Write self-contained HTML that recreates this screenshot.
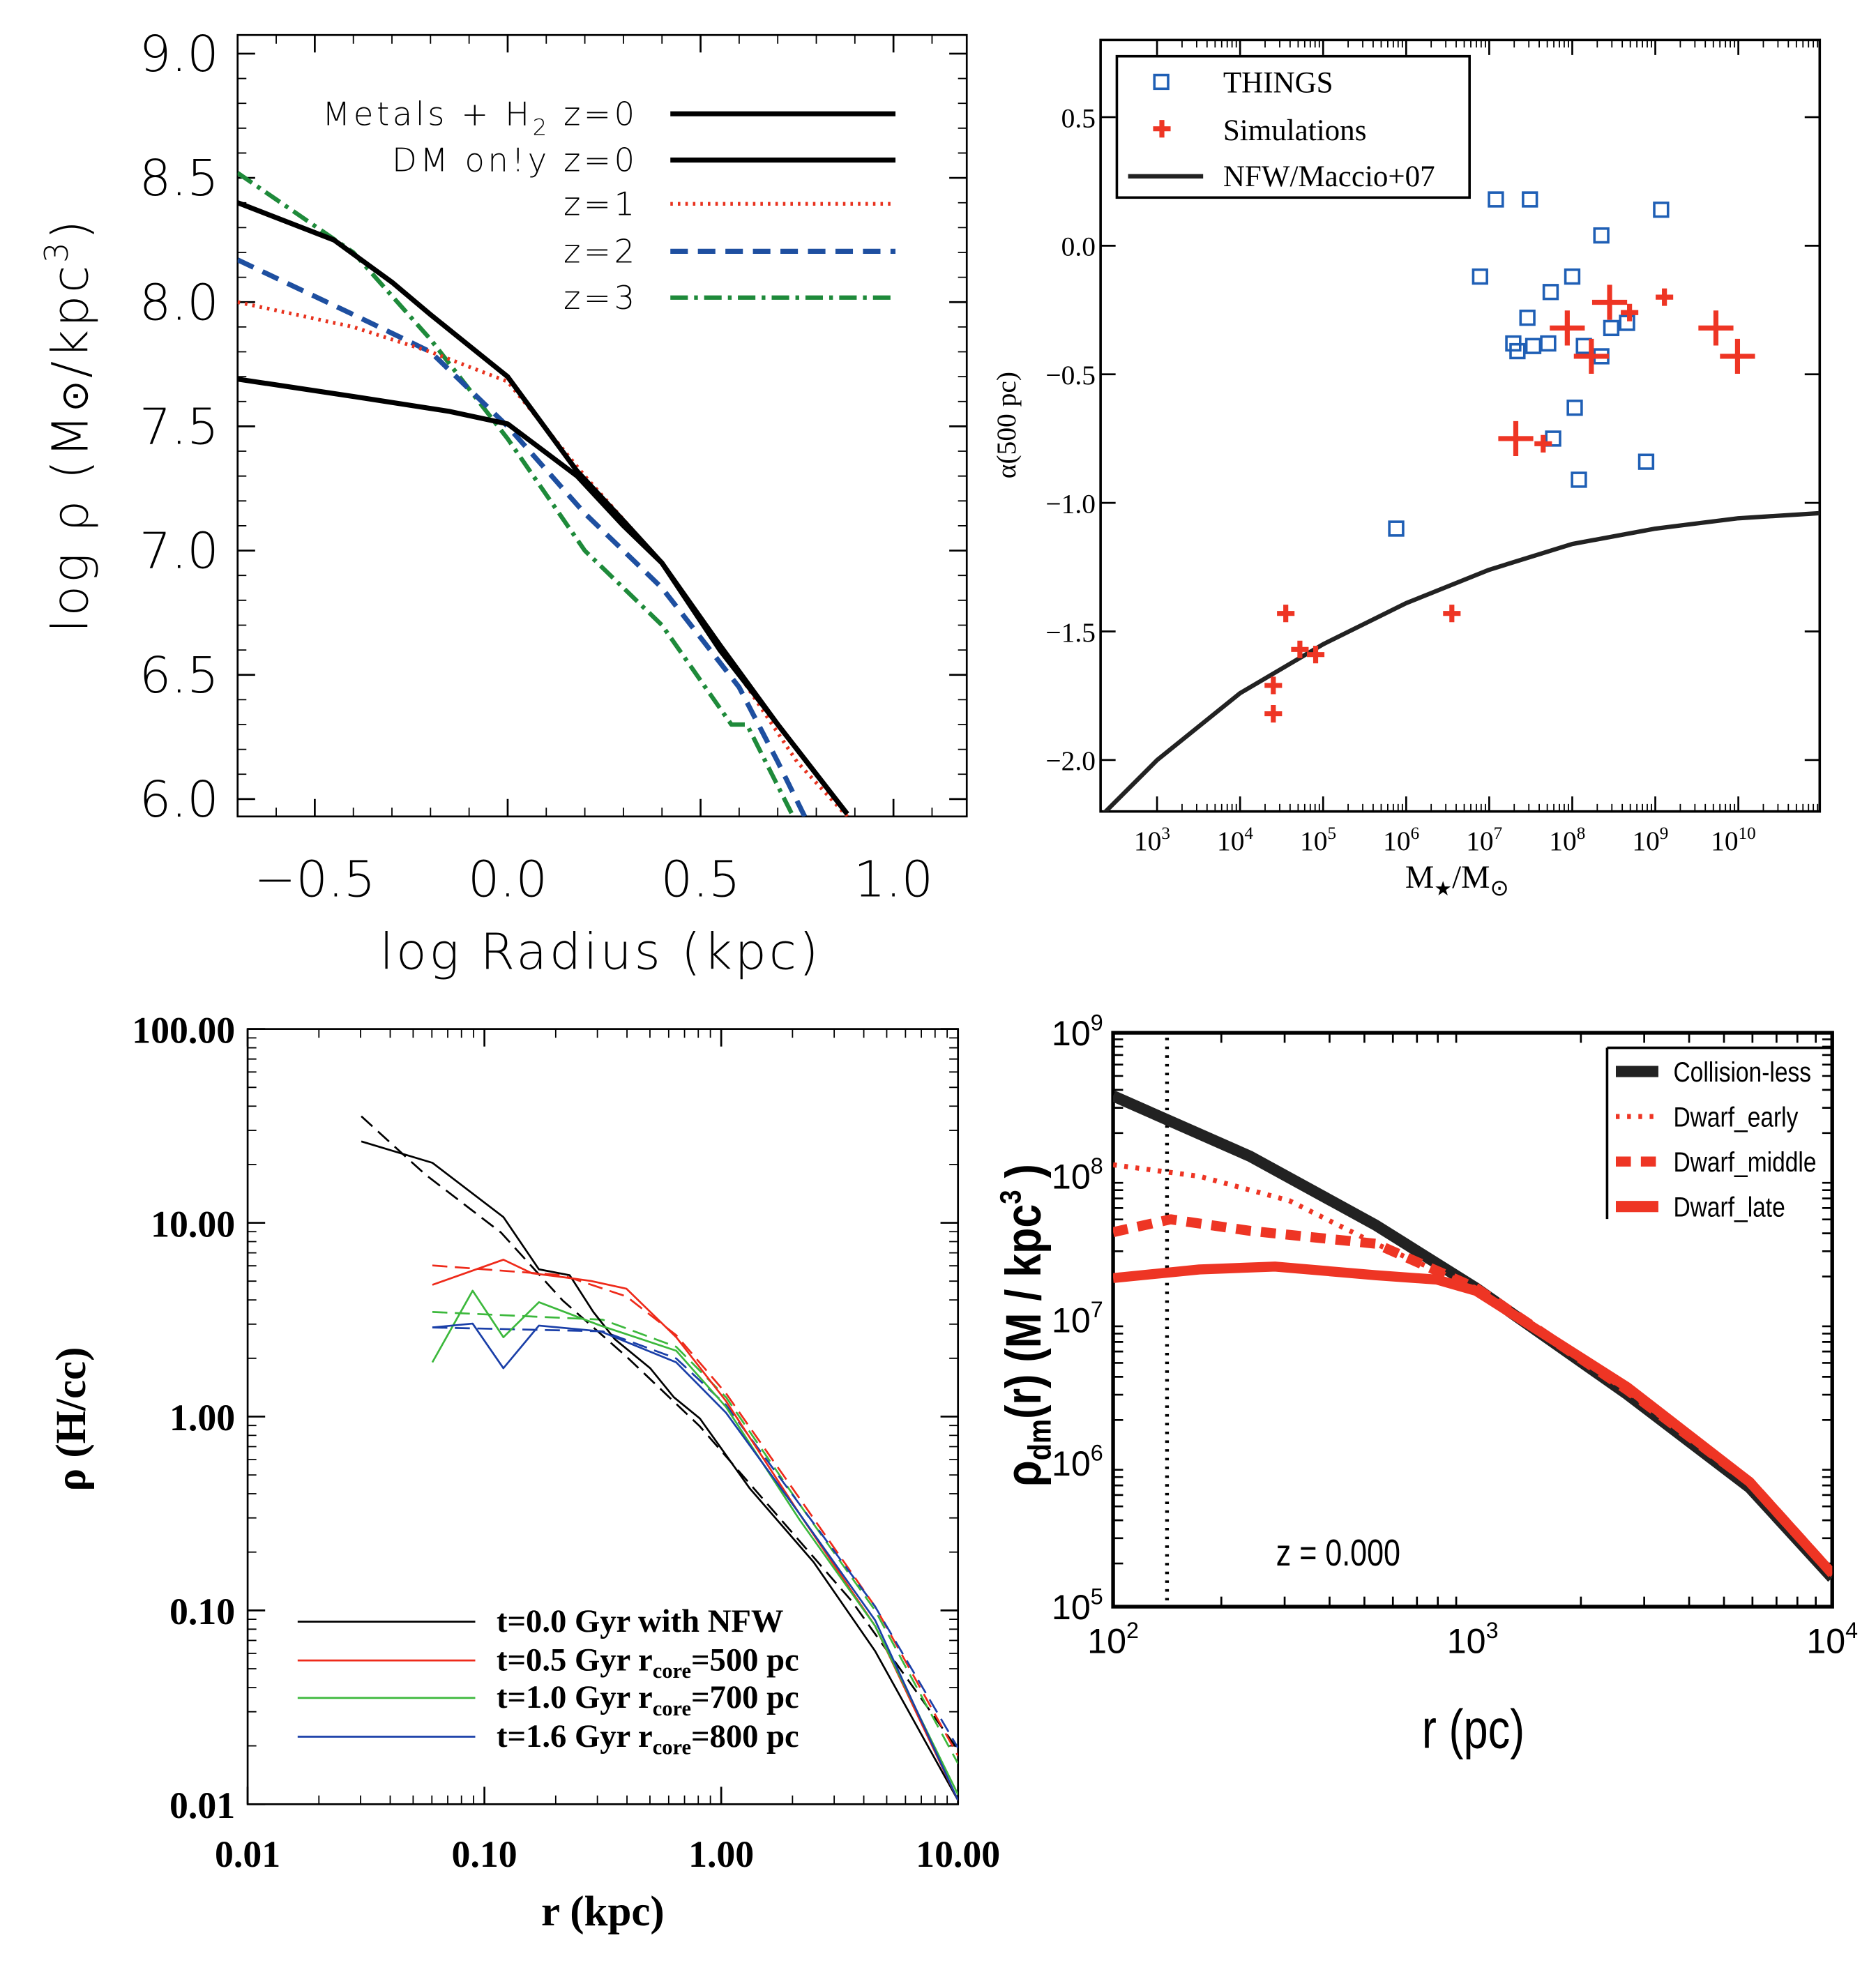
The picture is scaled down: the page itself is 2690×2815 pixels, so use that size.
<!DOCTYPE html>
<html><head><meta charset="utf-8"><style>
html,body{margin:0;padding:0;background:#fff;}
svg{display:block;}
</style></head><body>
<svg id="fig" width="2690" height="2815" viewBox="0 0 1500 1570" preserveAspectRatio="none" xmlns="http://www.w3.org/2000/svg">
<rect x="0" y="0" width="1500" height="1570" fill="#fff"/>
<g font-family="DejaVu Sans, sans-serif" fill="#000">
  <rect x="190" y="28" width="583" height="625" fill="none" stroke="#000" stroke-width="1.5"/>
  <text x="480" y="775" font-size="40" text-anchor="middle" font-weight="200" letter-spacing="2">log  Radius  (kpc)</text>
  <text transform="translate(70,340) rotate(-90)" font-size="40" text-anchor="middle" font-weight="200" letter-spacing="2">log  ρ  (M<tspan font-size="30">⊙</tspan>/kpc<tspan dy="-16" font-size="26">3</tspan><tspan dy="16">)</tspan></text>
  <g font-size="26" font-weight="200" letter-spacing="2.5">
    <text x="510" y="100" text-anchor="end">Metals  +  H<tspan dy="8" font-size="18">2</tspan><tspan dy="-8">  z=0</tspan></text>
    <text x="510" y="137" text-anchor="end">DM  on!y  z=0</text>
    <text x="510" y="172" text-anchor="end">z=1</text>
    <text x="510" y="210" text-anchor="end">z=2</text>
    <text x="510" y="247" text-anchor="end">z=3</text>
    <line x1="536" y1="91" x2="716" y2="91" stroke="#000" stroke-width="4"/>
    <line x1="536" y1="128" x2="716" y2="128" stroke="#000" stroke-width="4"/>
    <line x1="536" y1="163" x2="716" y2="163" stroke="#e8321e" stroke-width="3" stroke-dasharray="2,4"/>
    <line x1="536" y1="201" x2="716" y2="201" stroke="#1e4fa0" stroke-width="4" stroke-dasharray="14,8"/>
    <line x1="536" y1="238" x2="716" y2="238" stroke="#1e8a3a" stroke-width="3.5" stroke-dasharray="14,5,3,5"/>
  </g>
</g>
<g font-family="Liberation Serif, serif" fill="#000">
  <rect x="880" y="32" width="575" height="617" fill="none" stroke="#000" stroke-width="2"/>
  <text x="1165" y="710" font-size="26" text-anchor="middle">M<tspan font-size="16" dy="6">★</tspan><tspan dy="-6">/M</tspan><tspan font-size="18" dy="6">⊙</tspan></text>
  <text transform="translate(812,340) rotate(-90)" font-size="22" text-anchor="middle">α(500 pc)</text>
  <g>
    <rect x="893" y="45" width="282" height="113" fill="#fff" stroke="#000" stroke-width="2"/>
    <rect x="923" y="60" width="11" height="11" fill="none" stroke="#1f5fb5" stroke-width="2"/>
    <text x="978" y="74" font-size="24">THINGS</text>
    <path d="M929,96 v14 M922,103 h14" stroke="#ee3524" stroke-width="4"/>
    <text x="978" y="112" font-size="24">Simulations</text>
    <line x1="902" y1="141" x2="962" y2="141" stroke="#222" stroke-width="3.5"/>
    <text x="978" y="149" font-size="24">NFW/Maccio+07</text>
  </g>
</g>
<g font-family="Liberation Serif, serif" font-weight="bold" fill="#000">
  <rect x="198" y="823" width="568" height="620" fill="none" stroke="#000" stroke-width="1.5"/>
  <text x="482" y="1540" font-size="34" text-anchor="middle">r (kpc)</text>
  <text transform="translate(68,1135) rotate(-90)" font-size="34" text-anchor="middle">ρ (H/cc)</text>
  <g font-size="26">
    <line x1="238" y1="1297" x2="380" y2="1297" stroke="#000" stroke-width="1.5"/>
    <line x1="238" y1="1328" x2="380" y2="1328" stroke="#ee2a1a" stroke-width="1.5"/>
    <line x1="238" y1="1358" x2="380" y2="1358" stroke="#3cb83c" stroke-width="1.5"/>
    <line x1="238" y1="1389" x2="380" y2="1389" stroke="#1a3fa8" stroke-width="1.5"/>
    <text x="397" y="1305">t=0.0 Gyr with NFW</text>
    <text x="397" y="1336">t=0.5 Gyr r<tspan font-size="17" dy="6">core</tspan><tspan dy="-6">=500 pc</tspan></text>
    <text x="397" y="1366">t=1.0 Gyr r<tspan font-size="17" dy="6">core</tspan><tspan dy="-6">=700 pc</tspan></text>
    <text x="397" y="1397">t=1.6 Gyr r<tspan font-size="17" dy="6">core</tspan><tspan dy="-6">=800 pc</tspan></text>
  </g>
</g>
<g font-family="Liberation Sans Narrow, Liberation Sans, sans-serif" fill="#000">
  <rect x="890" y="826" width="575" height="459" fill="none" stroke="#000" stroke-width="3"/>
  <text x="1178" y="1398" font-size="44" text-anchor="middle" transform="translate(1178,0) scale(0.8,1) translate(-1178,0)">r (pc)</text>
  <text transform="translate(832,1060) rotate(-90) scale(0.85,1)" font-size="40" text-anchor="middle" font-weight="bold">ρ<tspan font-size="26" dy="8">dm</tspan><tspan dy="-8">(r)  (M    / kpc</tspan><tspan font-size="24" dy="-16">3</tspan><tspan dy="16"> )</tspan></text>
  <text x="1070" y="1252" font-size="30" text-anchor="middle" transform="translate(1070,0) scale(0.8,1) translate(-1070,0)">z =  0.000</text>
  <g font-size="22">
    <path d="M1285,838 V975 M1285,838 H1465" stroke="#000" stroke-width="2" fill="none"/>
    <line x1="1292" y1="857" x2="1326" y2="857" stroke="#222" stroke-width="9"/>
    <line x1="1292" y1="893" x2="1326" y2="893" stroke="#ee3524" stroke-width="4" stroke-dasharray="3,6"/>
    <line x1="1292" y1="929" x2="1326" y2="929" stroke="#ee3524" stroke-width="8" stroke-dasharray="12,8"/>
    <line x1="1292" y1="965" x2="1326" y2="965" stroke="#ee3524" stroke-width="9"/>
    <text x="1338" y="865" transform="translate(1338,0) scale(0.85,1) translate(-1338,0)">Collision-less</text>
    <text x="1338" y="901" transform="translate(1338,0) scale(0.85,1) translate(-1338,0)">Dwarf_early</text>
    <text x="1338" y="937" transform="translate(1338,0) scale(0.85,1) translate(-1338,0)">Dwarf_middle</text>
    <text x="1338" y="973" transform="translate(1338,0) scale(0.85,1) translate(-1338,0)">Dwarf_late</text>
  </g>
</g>
</svg>
<script>
const aMetalsX=[-0.70,-0.40,-0.15,0.0,0.18,0.30,0.40,0.55,0.70,0.88];
const aMetalsY=[7.69,7.62,7.56,7.51,7.30,7.10,6.95,6.62,6.30,5.94];
const aDmX=[-0.70,-0.45,-0.30,-0.20,0.0,0.18,0.30,0.40,0.55,0.70,0.88];
const aDmY=[8.40,8.25,8.08,7.95,7.70,7.32,7.12,6.95,6.60,6.30,5.94];
const aZ1X=[-0.70,-0.40,-0.20,0.0,0.20,0.40,0.60,0.75,0.88];
const aZ1Y=[8.00,7.90,7.80,7.68,7.30,6.95,6.50,6.15,5.93];
const aZ2X=[-0.70,-0.40,-0.20,0.0,0.20,0.40,0.60,0.70,0.77];
const aZ2Y=[8.17,7.95,7.80,7.50,7.15,6.85,6.45,6.15,5.93];
const aZ3X=[-0.70,-0.40,-0.20,0.0,0.20,0.40,0.58,0.62,0.74];
const aZ3Y=[8.52,8.20,7.85,7.45,7.00,6.70,6.30,6.30,5.93];
const aXTicks=[-0.5,0.0,0.5,1.0];
const aXTickLabels=["−0.5","0.0","0.5","1.0"];
const aYTicks=[6.0,6.5,7.0,7.5,8.0,8.5,9.0];
const aYTickLabels=["6.0","6.5","7.0","7.5","8.0","8.5","9.0"];
const bThingsLogM=[5.88,6.89,7.08,7.49,7.46,7.29,7.34,7.53,7.71,7.74,7.77,8.00,8.03,8.08,8.14,8.35,8.35,8.47,8.66,8.89,9.07];
const bThingsAlpha=[-1.10,-0.12,0.18,0.18,-0.28,-0.38,-0.41,-0.39,-0.38,-0.18,-0.75,-0.12,-0.63,-0.91,-0.39,0.04,-0.43,-0.32,-0.30,-0.84,0.14];
const bSimSmallLogM=[4.55,4.40,4.40,4.72,4.91,6.55,7.65,9.11,8.69];
const bSimSmallAlpha=[-1.43,-1.71,-1.82,-1.57,-1.59,-1.43,-0.77,-0.20,-0.26];
const bSimLargeLogM=[7.32,7.94,8.23,8.45,9.73,9.99];
const bSimLargeAlpha=[-0.75,-0.32,-0.43,-0.22,-0.32,-0.43];
const bNfwLogM=[2.32,3,4,5,6,7,8,9,10,10.98];
const bNfwAlpha=[-2.22,-2.0,-1.74,-1.55,-1.39,-1.26,-1.16,-1.10,-1.06,-1.04];
const bXTicks=[3,4,5,6,7,8,9,10];
const bYTicks=[0.5,0.0,-0.5,-1.0,-1.5,-2.0];
const bYTickLabels=["0.5","0.0","−0.5","−1.0","−1.5","−2.0"];
const cBlackX=[-1.52,-1.22,-0.92,-0.77,-0.64,-0.54,-0.45,-0.30,-0.20,-0.09,0.12,0.39,0.65,1.0];
const cBlackY=[1.42,1.31,1.03,0.76,0.73,0.54,0.40,0.25,0.10,-0.01,-0.37,-0.75,-1.21,-1.98];
const cBlackDX=[-1.52,-1.25,-0.93,-0.67,-0.40,-0.09,0.23,0.55,1.0];
const cBlackDY=[1.55,1.25,0.95,0.60,0.31,-0.05,-0.50,-0.95,-1.72];
const cRedX=[-1.22,-0.92,-0.80,-0.67,-0.55,-0.40,-0.19,0.02,0.33,0.65,1.0];
const cRedY=[0.68,0.81,0.74,0.72,0.70,0.66,0.41,0.08,-0.50,-1.08,-1.98];
const cRedDX=[-1.22,-0.67,-0.40,-0.19,0.02,0.33,0.65,1.0];
const cRedDY=[0.78,0.73,0.62,0.42,0.12,-0.42,-0.98,-1.75];
const cGreenX=[-1.22,-1.05,-0.92,-0.77,-0.51,-0.19,0.02,0.33,0.65,1.0];
const cGreenY=[0.28,0.65,0.41,0.59,0.47,0.34,0.05,-0.53,-1.08,-1.95];
const cGreenDX=[-1.22,-0.5,-0.19,0.02,0.33,0.65,1.0];
const cGreenDY=[0.54,0.50,0.36,0.10,-0.45,-1.0,-1.79];
const cBlueX=[-1.22,-1.05,-0.92,-0.77,-0.51,-0.19,0.02,0.33,0.65,1.0];
const cBlueY=[0.46,0.48,0.25,0.47,0.44,0.28,0.02,-0.50,-1.05,-1.98];
const cBlueDX=[-1.22,-0.5,-0.19,0.02,0.33,0.65,1.0];
const cBlueDY=[0.46,0.44,0.30,0.06,-0.45,-0.98,-1.71];
const cXTicks=[-2,-1,0,1];
const cXTickLabels=["0.01","0.10","1.00","10.00"];
const cYTicks=[-2,-1,0,1,2];
const cYTickLabels=["0.01","0.10","1.00","10.00","100.00"];
const dCollX=[2,2.38,2.73,3.01,3.43,3.77,4.0];
const dCollY=[8.56,8.14,7.66,7.22,6.48,5.83,5.20];
const dEarlyX=[2,2.24,2.49,2.73,3.01,3.43,3.77,4.0];
const dEarlyY=[8.08,8.00,7.83,7.53,7.22,6.50,5.86,5.22];
const dMidX=[2,2.16,2.38,2.73,3.01,3.43,3.77,4.0];
const dMidY=[7.61,7.70,7.62,7.53,7.22,6.51,5.87,5.23];
const dLateX=[2,2.24,2.45,2.73,2.90,3.01,3.43,3.77,4.0];
const dLateY=[7.29,7.35,7.37,7.31,7.28,7.20,6.53,5.87,5.23];
const dVLine=[2.15];
const dXTicks=[2,3,4];
const dYTicks=[5,6,7,8,9];

const NS="http://www.w3.org/2000/svg";
const fig=document.getElementById('fig');
function el(tag,attrs){const e=document.createElementNS(NS,tag);for(const k in attrs)e.setAttribute(k,attrs[k]);fig.appendChild(e);return e;}
function lin(d0,d1,p0,p1){return v=>p0+(v-d0)*(p1-p0)/(d1-d0);}
function pathD(xs,ys,fx,fy){return xs.map((x,i)=>(i?'L':'M')+fx(x).toFixed(1)+','+fy(ys[i]).toFixed(1)).join(' ');}
function curve(xs,ys,fx,fy,style,name){
  const p=el('path',Object.assign({d:pathD(xs,ys,fx,fy),fill:'none','stroke-linejoin':'round'},style));
  
  
  return p;
}
function clipRect(id,x,y,w,h){const c=el('clipPath',{id:id});const r=document.createElementNS(NS,'rect');r.setAttribute('x',x);r.setAttribute('y',y);r.setAttribute('width',w);r.setAttribute('height',h);c.appendChild(r);}

const ax=lin(-0.70,1.19,190,773), ay=lin(9.075,5.93,28,653);
clipRect('ca',190,28,583,625);
aXTicks.forEach((t,i)=>{
  const x=ax(t);
  const tk=el('path',{d:`M${x},653v-14M${x},28v14`,stroke:'#000','stroke-width':1.5});
  
  
  const lb=el('text',{x:x,y:717,'font-size':40,'text-anchor':'middle','font-family':'DejaVu Sans, sans-serif','font-weight':'200'});
  lb.textContent=aXTickLabels[i];
  
  
});
for(let t=-0.6;t<1.2;t+=0.1){const x=ax(t);const m=el('path',{d:`M${x},653v-7M${x},28v7`,stroke:'#000','stroke-width':1});
  
  }
aYTicks.forEach((t,i)=>{
  const y=ay(t);
  const tk=el('path',{d:`M190,${y}h14M773,${y}h-14`,stroke:'#000','stroke-width':1.5});
  
  
  const lb=el('text',{x:175,y:y+14,'font-size':40,'text-anchor':'end','font-family':'DejaVu Sans, sans-serif','font-weight':'200'});
  lb.textContent=aYTickLabels[i];
  
  
});
for(let t=6.1;t<9.05;t+=0.1){const y=ay(t);const m=el('path',{d:`M190,${y}h7M773,${y}h-7`,stroke:'#000','stroke-width':1});
  
  }
const gA={'clip-path':'url(#ca)'};
curve(aZ3X,aZ3Y,ax,ay,Object.assign({stroke:'#1e8a3a','stroke-width':3.5,'stroke-dasharray':'14,5,3,5'},gA),'series-z3');
curve(aZ2X,aZ2Y,ax,ay,Object.assign({stroke:'#1e4fa0','stroke-width':4,'stroke-dasharray':'14,8'},gA),'series-z2');
curve(aZ1X,aZ1Y,ax,ay,Object.assign({stroke:'#e8321e','stroke-width':3,'stroke-dasharray':'2,4'},gA),'series-z1');
curve(aMetalsX,aMetalsY,ax,ay,Object.assign({stroke:'#000','stroke-width':4},gA),'series-metals-h2-z0');
curve(aDmX,aDmY,ax,ay,Object.assign({stroke:'#000','stroke-width':4},gA),'series-dm-only-z0');

const bx=lin(2.32,10.98,880,1455), by=lin(0.80,-2.20,32,649);
clipRect('cb',880,32,575,617);
bXTicks.forEach(t=>{
  const x=bx(t);
  const tk=el('path',{d:`M${x},649v-12M${x},32v12`,stroke:'#000','stroke-width':1.5});
  
  
  const lb=el('text',{x:x-4,y:680,'font-size':22,'text-anchor':'middle','font-family':'Liberation Serif, serif'});
  lb.innerHTML='10<tspan dy="-9" font-size="14">'+t+'</tspan>';
  
  
  for(let k=2;k<10;k++){const xm=bx(t+Math.log10(k));if(xm<1455){const m=el('path',{d:`M${xm},649v-6M${xm},32v6`,stroke:'#000','stroke-width':1});
    
    }}
});
bYTicks.forEach((t,i)=>{
  const y=by(t);
  const tk=el('path',{d:`M880,${y}h12M1455,${y}h-12`,stroke:'#000','stroke-width':1.5});
  
  
  const lb=el('text',{x:876,y:y+8,'font-size':22,'text-anchor':'end','font-family':'Liberation Serif, serif'});
  lb.textContent=bYTickLabels[i];
  
  
});
curve(bNfwLogM,bNfwAlpha,bx,by,{stroke:'#222','stroke-width':3.5,'clip-path':'url(#cb)'},'series-nfw-maccio07');
bThingsLogM.forEach((m,i)=>{
  const s=el('rect',{x:bx(m)-5.5,y:by(bThingsAlpha[i])-5.5,width:11,height:11,fill:'none',stroke:'#1f5fb5','stroke-width':2});
  
  
});
bSimSmallLogM.forEach((m,i)=>{
  const x=bx(m),y=by(bSimSmallAlpha[i]);
  const c=el('path',{d:`M${x},${y-7}v14M${x-7},${y}h14`,stroke:'#ee3524','stroke-width':4});
  
  
});
bSimLargeLogM.forEach((m,i)=>{
  const x=bx(m),y=by(bSimLargeAlpha[i]);
  const c=el('path',{d:`M${x},${y-14}v28M${x-14},${y}h28`,stroke:'#ee3524','stroke-width':4});
  
  
});

const cx=lin(-2,1,198,766), cy=lin(2,-2,823,1443);
clipRect('cc',198,823,568,620);
cXTicks.forEach((t,i)=>{
  const x=cx(t);
  const tk=el('path',{d:`M${x},1443v-14M${x},823v14`,stroke:'#000','stroke-width':1.5});
  
  
  const lb=el('text',{x:x,y:1493,'font-size':30,'text-anchor':'middle','font-family':'Liberation Serif, serif','font-weight':'bold'});
  lb.textContent=cXTickLabels[i];
  
  
  if(t<1)for(let k=2;k<10;k++){const xm=cx(t+Math.log10(k));const m=el('path',{d:`M${xm},1443v-7M${xm},823v7`,stroke:'#000','stroke-width':1});
    
    }
});
cYTicks.forEach((t,i)=>{
  const y=cy(t);
  const tk=el('path',{d:`M198,${y}h14M766,${y}h-14`,stroke:'#000','stroke-width':1.5});
  
  
  const lb=el('text',{x:188,y:y+11,'font-size':30,'text-anchor':'end','font-family':'Liberation Serif, serif','font-weight':'bold'});
  lb.textContent=cYTickLabels[i];
  
  
  if(t<2)for(let k=2;k<10;k++){const ym=cy(t+Math.log10(k));const m=el('path',{d:`M198,${ym}h7M766,${ym}h-7`,stroke:'#000','stroke-width':1});
    
    }
});
const gC={'clip-path':'url(#cc)','stroke-width':1.5};
curve(cBlackDX,cBlackDY,cx,cy,Object.assign({stroke:'#000','stroke-dasharray':'12,6'},gC),'series-nfw-fit-t0');
curve(cRedDX,cRedDY,cx,cy,Object.assign({stroke:'#ee2a1a','stroke-dasharray':'12,6'},gC),'series-core-fit-t05');
curve(cGreenDX,cGreenDY,cx,cy,Object.assign({stroke:'#3cb83c','stroke-dasharray':'12,6'},gC),'series-core-fit-t10');
curve(cBlueDX,cBlueDY,cx,cy,Object.assign({stroke:'#1a3fa8','stroke-dasharray':'12,6'},gC),'series-core-fit-t16');
curve(cBlackX,cBlackY,cx,cy,Object.assign({stroke:'#000'},gC),'series-t0');
curve(cRedX,cRedY,cx,cy,Object.assign({stroke:'#ee2a1a'},gC),'series-t05');
curve(cGreenX,cGreenY,cx,cy,Object.assign({stroke:'#3cb83c'},gC),'series-t10');
curve(cBlueX,cBlueY,cx,cy,Object.assign({stroke:'#1a3fa8'},gC),'series-t16');

const dx=lin(2,4,890,1465), dy=lin(9,5,826,1285);
clipRect('cd',890,826,575,459);
dXTicks.forEach(t=>{
  const x=dx(t);
  const lb=el('text',{x:x,y:1322,'font-size':28,'text-anchor':'middle','font-family':'Liberation Sans Narrow, Liberation Sans, sans-serif'});
  lb.innerHTML='10<tspan dy="-12" font-size="18">'+t+'</tspan>';
  
  
  if(t<4)for(let k=2;k<10;k++){const xm=dx(t+Math.log10(k));const m=el('path',{d:`M${xm},1285v-8M${xm},826v8`,stroke:'#000','stroke-width':1.5});
    
    }
});
dYTicks.forEach(t=>{
  const y=dy(t);
  const lb=el('text',{x:882,y:y+10,'font-size':28,'text-anchor':'end','font-family':'Liberation Sans Narrow, Liberation Sans, sans-serif'});
  lb.innerHTML='10<tspan dy="-12" font-size="18">'+t+'</tspan>';
  
  
  if(t<9)for(let k=2;k<10;k++){const ym=dy(t+Math.log10(k));const m=el('path',{d:`M890,${ym}h8M1465,${ym}h-8`,stroke:'#000','stroke-width':1.5});
    
    }
});
const vl=el('line',{x1:dx(dVLine[0]),x2:dx(dVLine[0]),y1:830,y2:1281,stroke:'#000','stroke-width':3,'stroke-dasharray':'2,5'});


const gD={'clip-path':'url(#cd)'};
curve(dCollX,dCollY,dx,dy,Object.assign({stroke:'#222','stroke-width':9},gD),'series-collision-less');
curve(dEarlyX,dEarlyY,dx,dy,Object.assign({stroke:'#ee3524','stroke-width':4,'stroke-dasharray':'3,6'},gD),'series-dwarf-early');
curve(dMidX,dMidY,dx,dy,Object.assign({stroke:'#ee3524','stroke-width':8,'stroke-dasharray':'12,8'},gD),'series-dwarf-middle');
curve(dLateX,dLateY,dx,dy,Object.assign({stroke:'#ee3524','stroke-width':8},gD),'series-dwarf-late');
</script>
</body></html>
